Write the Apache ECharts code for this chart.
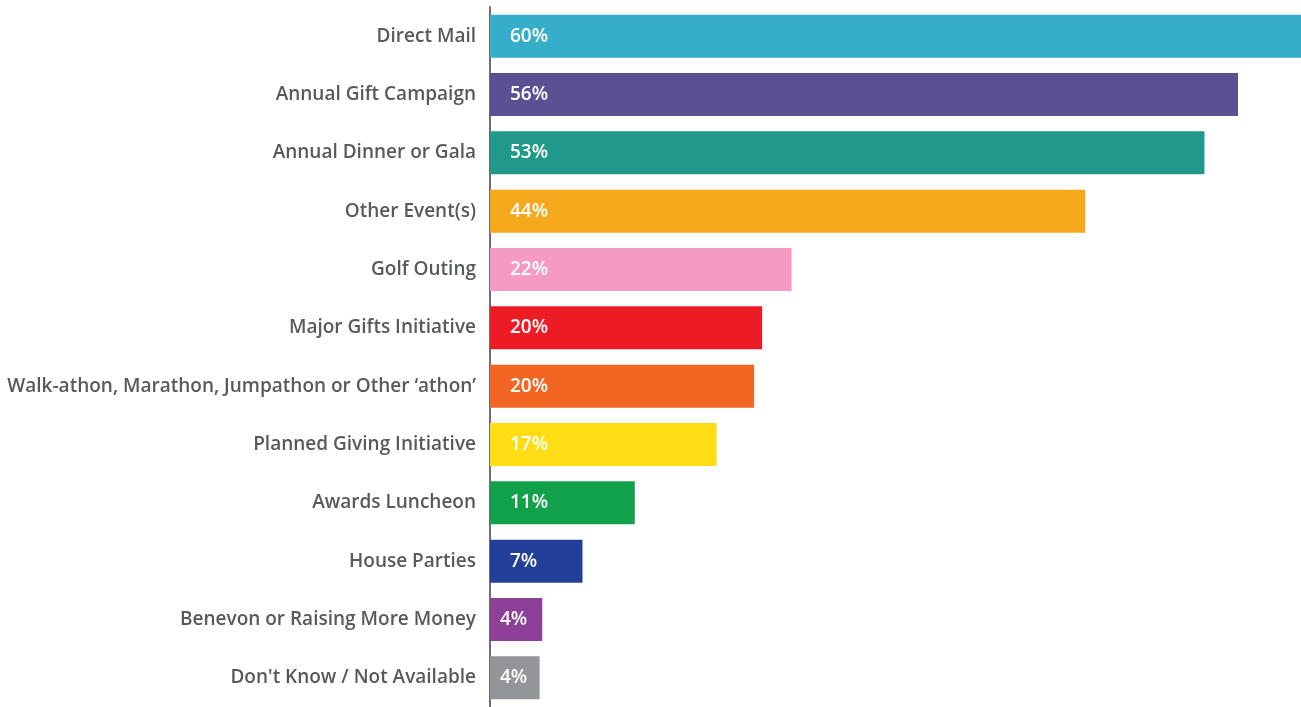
<!DOCTYPE html>
<html>
<head>
<meta charset="utf-8">
<script src="https://cdn.jsdelivr.net/npm/echarts@6/dist/echarts.min.js"></script>
<style>
html,body{margin:0;padding:0;background:#ffffff;}
#chart{width:1301px;height:707px;}
</style>
</head>
<body>
<div id="chart"></div>
<script>
var categories = [
  "Direct Mail",
  "Annual Gift Campaign",
  "Annual Dinner or Gala",
  "Other Event(s)",
  "Golf Outing",
  "Major Gifts Initiative",
  "Walk-athon, Marathon, Jumpathon or Other \u2018athon\u2019",
  "Planned Giving Initiative",
  "Awards Luncheon",
  "House Parties",
  "Benevon or Raising More Money",
  "Don't Know / Not Available"
];
var values = [60.5, 55.8, 53.3, 44.4, 22.5, 20.3, 19.7, 16.9, 10.8, 6.9, 3.9, 3.7];
var valueLabels = ["60%", "56%", "53%", "44%", "22%", "20%", "20%", "17%", "11%", "7%", "4%", "4%"];
var colors = ["#37aec9", "#5a5195", "#20998a", "#f5a81c", "#f49ac3", "#ed1c24", "#f26522", "#ffdd15", "#10a14a", "#22409a", "#8e3f97", "#939598"];

var chart = echarts.init(document.getElementById('chart'));
var data = values.map(function (v, i) {
  var item = { value: v, itemStyle: { color: colors[i] } };
  if (v < 5) {
    item.label = { distance: 10 };
  }
  return item;
});
chart.setOption({
  animation: false,
  grid: { left: 490, right: 0, top: 7, height: 704, containLabel: false },
  xAxis: {
    type: 'value', min: 0, max: 60.5,
    show: false
  },
  yAxis: {
    type: 'category',
    data: categories,
    inverse: true,
    axisLine: { show: true, lineStyle: { color: '#6d6e71', width: 2 } },
    axisTick: { show: false },
    axisLabel: {
      color: '#58595b',
      fontFamily: 'Open Sans',
      fontWeight: 600,
      fontSize: 19,
      margin: 14,
      padding: [3, 0, 0, 0]
    }
  },
  series: [{
    type: 'bar',
    data: data,
    barWidth: 43,
    label: {
      show: true,
      position: 'insideLeft',
      distance: 20,
      color: '#ffffff',
      fontFamily: 'Open Sans',
      fontWeight: 600,
      fontSize: 19,
      padding: [3, 0, 0, 0]
    },
    labelLayout: {},
    encode: {}
  }]
});
chart.setOption({
  series: [{
    label: {
      formatter: function (p) { return valueLabels[p.dataIndex]; }
    }
  }]
});
</script>
</body>
</html>
